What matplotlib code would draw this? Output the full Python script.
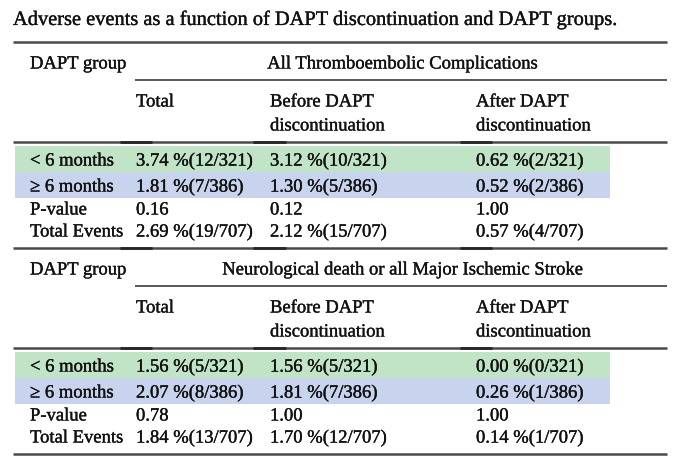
import matplotlib
matplotlib.use('Agg')
import matplotlib.pyplot as plt
import matplotlib.patheffects as pe

title = 'Adverse events as a function of DAPT discontinuation and DAPT groups.'
group_label = 'DAPT group'
col_labels = ['Total', 'Before DAPT\ndiscontinuation', 'After DAPT\ndiscontinuation']
row_labels = ['< 6 months', '\u2265 6 months', 'P-value', 'Total Events']

outcomes = ['All Thromboembolic Complications',
            'Neurological death or all Major Ischemic Stroke']

# values per outcome: rows x (Total, Before, After)
thrombo = [['3.74 %(12/321)', '3.12 %(10/321)', '0.62 %(2/321)'],
           ['1.81 %(7/386)', '1.30 %(5/386)', '0.52 %(2/386)'],
           ['0.16', '0.12', '1.00'],
           ['2.69 %(19/707)', '2.12 %(15/707)', '0.57 %(4/707)']]
neuro = [['1.56 %(5/321)', '1.56 %(5/321)', '0.00 %(0/321)'],
         ['2.07 %(8/386)', '1.81 %(7/386)', '0.26 %(1/386)'],
         ['0.78', '1.00', '1.00'],
         ['1.84 %(13/707)', '1.70 %(12/707)', '0.14 %(1/707)']]
sections = [thrombo, neuro]

green = '#c0e4c5'
blue = '#c8d3ee'
row_colors = [green, blue, None, None]

W, H = 680, 464
fig = plt.figure(figsize=(W / 100, H / 100), dpi=100)
ax = fig.add_axes([0, 0, 1, 1])
ax.set_xlim(0, W)
ax.set_ylim(H, 0)
ax.axis('off')

font = 'Liberation Serif'
fs = 13.4
col_x = [136, 270, 476]
label_x = 30
ink = '#111111'
heavy = [pe.withStroke(linewidth=0.25, foreground=ink)]

def txt(x, y, s, size=fs, ha='left'):
    ax.text(x, y, s, fontsize=size, family=font, va='center', ha=ha,
            color=ink, path_effects=heavy)

txt(13, 21, title, size=14.7)

def rule(y, x0=13, x1=667, lw=1.8, marks=True):
    ax.plot([x0, x1], [y, y], color='#4a4a4a', lw=lw, solid_capstyle='butt')
    if marks:
        for a, b in [(120, 152), (253, 286), (460, 492)]:
            ax.plot([a, b], [y, y], color='#262626', lw=lw + 0.2, solid_capstyle='butt')

tops = [43, 249]
for s, data in enumerate(sections):
    y0 = tops[s]
    rule(y0, marks=(s == 1))
    txt(label_x, y0 + 22, group_label)
    txt(403, y0 + 22, outcomes[s], ha='center')
    rule(y0 + 38, x0=135, lw=1.3, marks=False)
    for x, lab in zip(col_x, col_labels):
        for k, ln in enumerate(lab.split('\n')):
            txt(x, y0 + 60 + 24 * k, ln)
    rule(y0 + 100)
    band_top = y0 + 104
    for r in range(len(row_labels)):
        if row_colors[r]:
            ax.add_patch(plt.Rectangle((15, band_top + 26 * r), 595, 26,
                                       color=row_colors[r], lw=0, zorder=0))
    ys = [y0 + 119, y0 + 145, y0 + 168, y0 + 190]
    for r, (lab, vals) in enumerate(zip(row_labels, data)):
        txt(label_x, ys[r], lab)
        for x, v in zip(col_x, vals):
            txt(x, ys[r], v)
rule(455, marks=False)

fig.savefig('out.png', dpi=100, facecolor='white')
